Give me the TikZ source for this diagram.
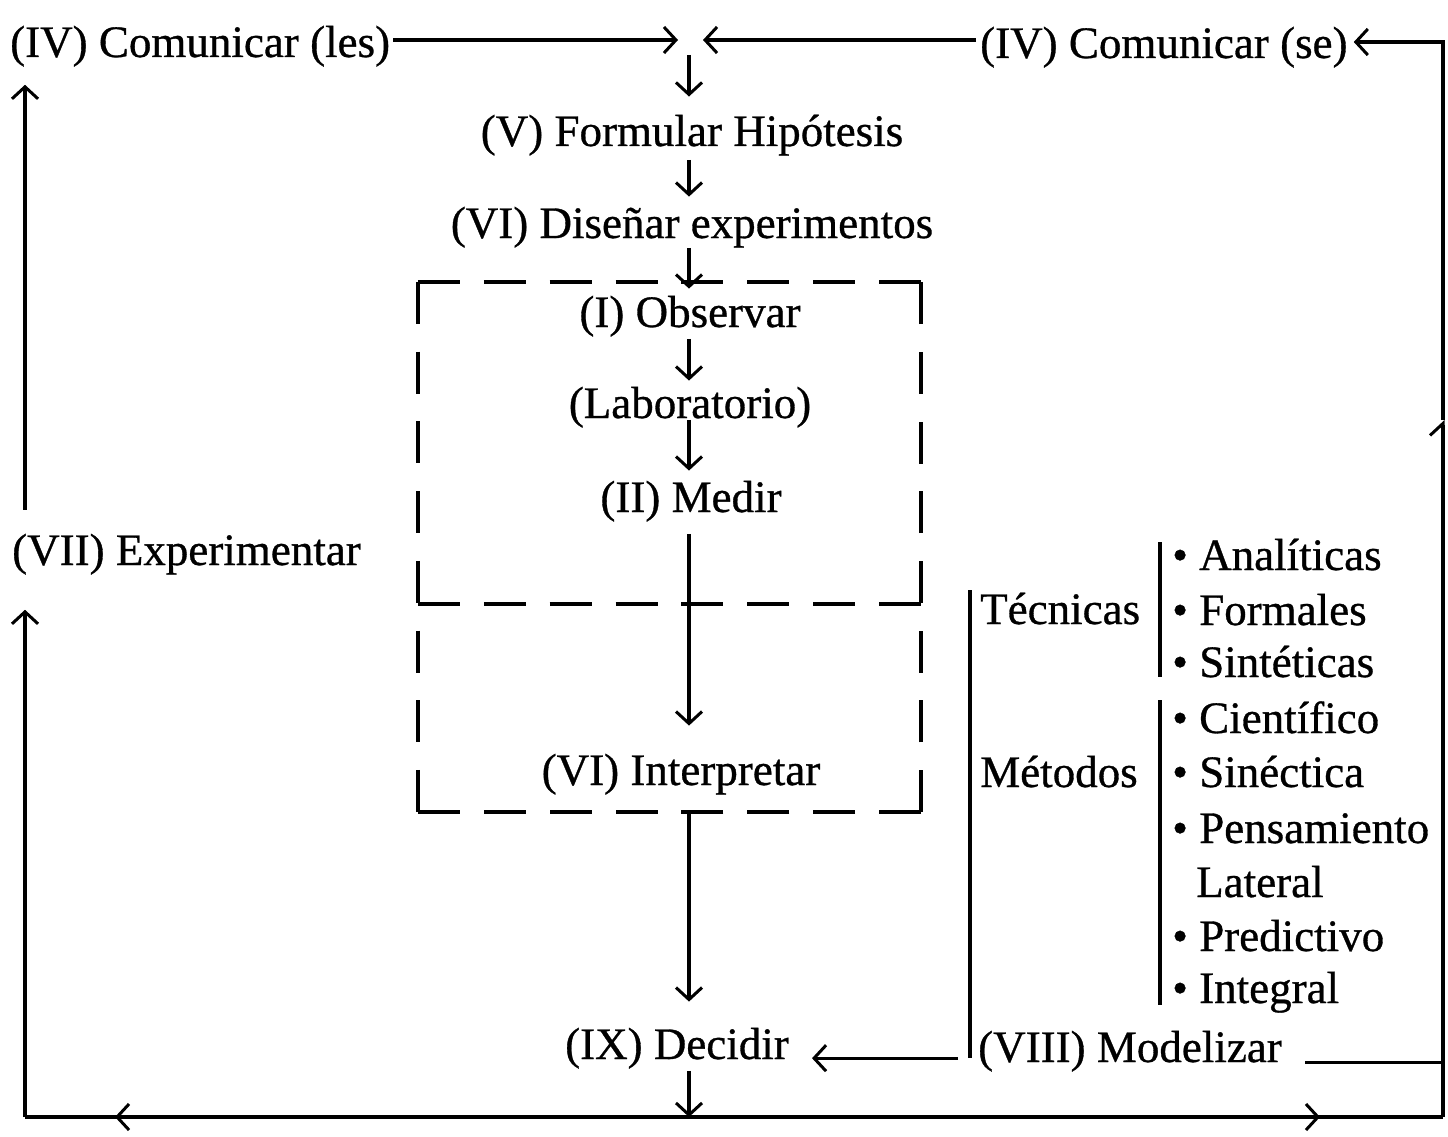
\documentclass[tikz,border=0pt]{standalone}
\usepackage{fontspec}
\setmainfont[FakeBold=0.7]{Liberation Serif}
\usetikzlibrary{arrows.meta}
\begin{document}
\begin{tikzpicture}[x=1pt,y=-1pt,
  every node/.style={inner sep=0pt, font=\fontsize{45}{54}\selectfont},
  lbl/.style={anchor=base},
  lblw/.style={anchor=base west},
  ln/.style={line width=3.2pt},
  arr/.style={ln, -{Straight Barb[length=12pt,width=26pt,line width=3pt]}},
  harr/.style={ln, -{Straight Barb[length=12pt,width=26pt,line width=3pt,harpoon]}},
  dshh/.style={line width=3.2pt, dash pattern=on 42pt off 23.86pt},
  dshv/.style={line width=3.2pt, dash pattern=on 42pt off 27.7pt},
]
\useasboundingbox (0,0) rectangle (1448,1137);
% nodes
\node[lblw] (cles) at (10,57) {(IV) Comunicar (les)};
\node[lblw] (cse) at (980,58) {(IV) Comunicar (se)};
\coordinate (j) at (689,40);
\node[lbl] (form) at (692,146) {(V) Formular Hipótesis};
\node[lbl] (dis) at (692,238) {(VI) Diseñar experimentos};
\node[lbl] (obs) at (690,327) {(I) Observar};
\node[lbl] (lab) at (690,418) {(Laboratorio)};
\node[lbl] (med) at (691,512) {(II) Medir};
\node[lbl] (int) at (681,785) {(VI) Interpretar};
\node[lbl] (dec) at (677,1059) {(IX) Decidir};
\node[lblw] (exp) at (12,565) {(VII) Experimentar};
\node[lblw] (mod) at (978,1062) {(VIII) Modelizar};
\node[lblw] (tec) at (980,624) {Técnicas};
\node[lblw] (met) at (980,787) {Métodos};
\node[lblw] (a1) at (1172,570) {\textbullet\ Analíticas};
\node[lblw] (a2) at (1172,625) {\textbullet\ Formales};
\node[lblw] (a3) at (1172,677) {\textbullet\ Sintéticas};
\node[lblw] (m1) at (1172,733) {\textbullet\ Científico};
\node[lblw] (m2) at (1172,787) {\textbullet\ Sinéctica};
\node[lblw] (m3) at (1172,843) {\textbullet\ Pensamiento};
\node[lblw] (m4) at (1196,897) {Lateral};
\node[lblw] (m5) at (1172,951) {\textbullet\ Predictivo};
\node[lblw] (m6) at (1172,1003) {\textbullet\ Integral};
% frame coordinates
\coordinate (bl) at (25,1117);
\coordinate (br) at (1443,1117);
\coordinate (rh) at (1443,420);
\coordinate (tr) at (1443,42);
% dashed box
\draw[dshh] (418,282) -- (921,282);
\draw[dshv] (418,282) -- (418,812);
\draw[dshv] (921,812) -- (921,282);
\draw[dshh] (921,812) -- (418,812);
\draw[dshh] (418,604) -- (921,604);
% top
\draw[arr] ([xshift=3pt]cles.east |- j) -- ([xshift=-11pt]j);
\draw[arr] ([xshift=-4pt]cse.west |- j) -- ([xshift=14pt]j);
\draw[arr] ([yshift=-15pt]j) -- ([yshift=18pt]form.north -| j);
% central column
\draw[arr] ([yshift=-4pt]form.south -| j) -- ([yshift=10pt]dis.north -| j);
\draw[arr] (dis.south -| j) -- ([yshift=7pt]obs.north -| j);
\draw[arr] ([yshift=-2pt]obs.south -| j) -- ([yshift=6pt]lab.north -| j);
\draw[arr] ([yshift=8pt]lab.south -| j) -- ([yshift=10pt]med.north -| j);
\draw[arr] ([yshift=-12pt]med.south -| j) -- ([yshift=28pt]int.north -| j);
\draw[arr] ([yshift=-16pt]int.south -| j) -- ([yshift=26pt]dec.north -| j);
\draw[arr] ([yshift=-2pt]dec.south -| j) -- (j |- bl);
% bottom and sides
\draw[ln] (bl) -- (br);
\draw[arr] (j |- bl) -- ([xshift=90pt]bl);
\draw[arr] (j |- bl) -- ([xshift=-123pt]br);
\draw[arr] (bl) -- ([yshift=-35pt]exp.south -| bl);
\draw[arr] ([yshift=24pt]exp.north -| bl) -- ([yshift=-18pt]cles.south -| bl);
\draw[harr] (br) -- (rh);
\draw[arr] (rh) -- (tr) -- ([xshift=6pt]cse.east |- tr);
% modelizar
\coordinate (mw) at ([shift={(-20pt,-7pt)}]mod.west);
\draw[arr] (mw) -- ([xshift=23pt]dec.east |- mw);
\coordinate (me) at ([shift={(23pt,-11pt)}]mod.east);
\draw[ln] (me) -- (me -| br);
% brackets
\draw[ln] (970,590) -- (970,1058);
\draw[ln] (1160,542) -- (1160,677);
\draw[ln] (1160,700) -- (1160,1005);
\end{tikzpicture}
\end{document}
